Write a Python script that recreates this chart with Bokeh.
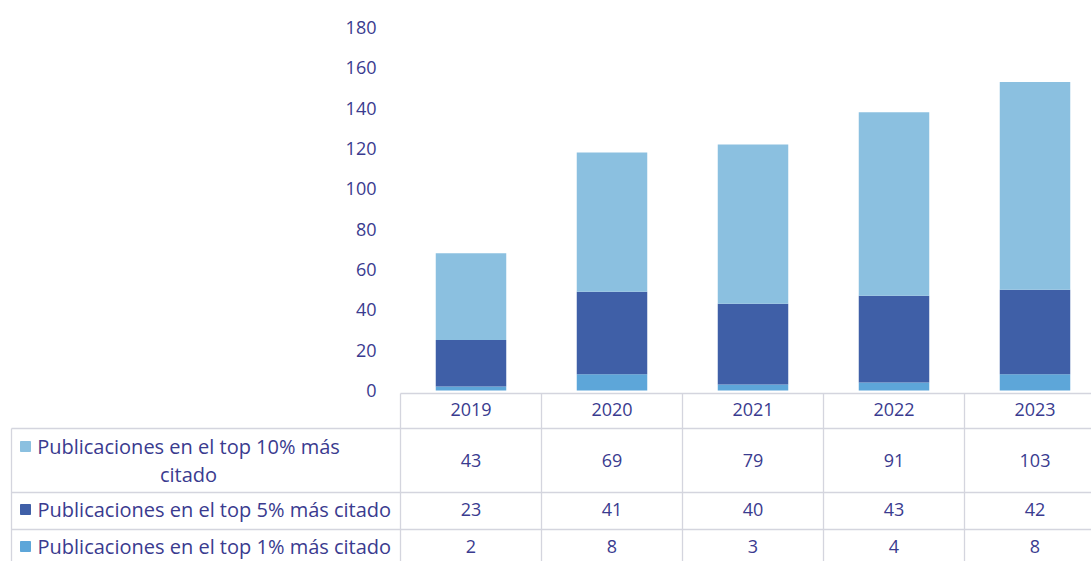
from bokeh.plotting import figure
from bokeh.models import Range1d, ColumnDataSource
from bokeh.core.properties import value
from bokeh.embed import file_html
from bokeh.resources import INLINE

# ---- data ----
years = ["2019", "2020", "2021", "2022", "2023"]
top10 = [43, 69, 79, 91, 103]
top5 = [23, 41, 40, 43, 42]
top1 = [2, 8, 3, 4, 8]
row_labels = [
    ["Publicaciones en el top 10% más", "citado"],
    ["Publicaciones en el top 5% más citado"],
    ["Publicaciones en el top 1% más citado"],
]
y_ticks = [0, 20, 40, 60, 80, 100, 120, 140, 160, 180]

# ---- style ----
C10 = "#8BC0E0"
C5 = "#3F5FA7"
C1 = "#5DA6D9"
TXT = "#3A3B8F"
GRID = "#D4D5DE"
FONT = value("Open Sans")
FS = value("18px")
FS_LAB = value("20px")

W, H = 1091, 561
PX_L, PX_R, PX_T, PX_B = 0, W, 0, H
X0_PAGE = 400.0
CAT_PX = 141.0
Y0_PAGE = 390.0
Y_PER = 363.0 / 180

x_start = (PX_L - X0_PAGE) / CAT_PX
x_end = (PX_R - X0_PAGE) / CAT_PX
y_end = (Y0_PAGE - PX_T) / Y_PER
y_start = -(PX_B - Y0_PAGE) / Y_PER

p = figure(width=W, height=H, output_backend="svg", toolbar_location=None,
           x_range=Range1d(x_start, x_end), y_range=Range1d(y_start, y_end),
           min_border=0, outline_line_color=None)
p.axis.visible = False
p.grid.visible = False
p.extra_x_ranges = {"px": Range1d(PX_L, PX_R)}
p.extra_y_ranges = {"px": Range1d(PX_B, PX_T)}

ncat = len(years)
xs = [i + 0.5 for i in range(ncat)]
src = ColumnDataSource(dict(x=xs, years=years, top1=top1, top5=top5, top10=top10,
                            t1=[str(v) for v in top1], t5=[str(v) for v in top5],
                            t10=[str(v) for v in top10]))

p.vbar_stack(["top1", "top5", "top10"], x="x", width=0.5, color=[C1, C5, C10],
             line_color=None, source=src)

# y tick labels
p.text(x=[376] * len(y_ticks), y=y_ticks, text=[str(t) for t in y_ticks],
       x_range_name="px", text_align="right", text_baseline="middle",
       text_font=FONT, text_font_size=FS, text_color=TXT)

# ---- data table ----
row_y = [393, 428, 492, 529]
p.segment(x0=[0], x1=[x_end], y0=[row_y[0]], y1=[row_y[0]], y_range_name="px",
          line_color=GRID, line_width=1.3)
p.segment(x0=[11] * 3, x1=[PX_R] * 3, y0=row_y[1:], y1=row_y[1:],
          x_range_name="px", y_range_name="px", line_color=GRID, line_width=1.3)
p.segment(x0=list(range(ncat)), x1=list(range(ncat)), y0=[row_y[0]] * ncat, y1=[PX_B] * ncat,
          y_range_name="px", line_color=GRID, line_width=1.3)
p.segment(x0=[11], x1=[11], y0=[row_y[1]], y1=[PX_B], x_range_name="px", y_range_name="px",
          line_color=GRID, line_width=1.3)

p.text(x="x", y=409, text="years", source=src, y_range_name="px",
       text_align="center", text_baseline="middle", text_font=FONT, text_font_size=FS,
       text_color=TXT)
for col, yy in (("t10", 460), ("t5", 509), ("t1", 546)):
    p.text(x="x", y=yy, text=col, source=src, y_range_name="px",
           text_align="center", text_baseline="middle", text_font=FONT, text_font_size=FS,
           text_color=TXT)

p.rect(x=[25, 25, 25], y=[446, 509, 546], width=10, height=10, color=[C10, C5, C1],
       x_range_name="px", y_range_name="px")
p.text(x=[188, 188], y=[446, 474], text=row_labels[0], x_range_name="px", y_range_name="px",
       text_align="center", text_baseline="middle", text_font=FONT, text_font_size=FS_LAB,
       text_color=TXT)
p.text(x=[37, 37], y=[509, 546], text=[row_labels[1][0], row_labels[2][0]],
       x_range_name="px", y_range_name="px", text_align="left", text_baseline="middle",
       text_font=FONT, text_font_size=FS_LAB, text_color=TXT)

open("out.html", "w").write(file_html(p, INLINE))
